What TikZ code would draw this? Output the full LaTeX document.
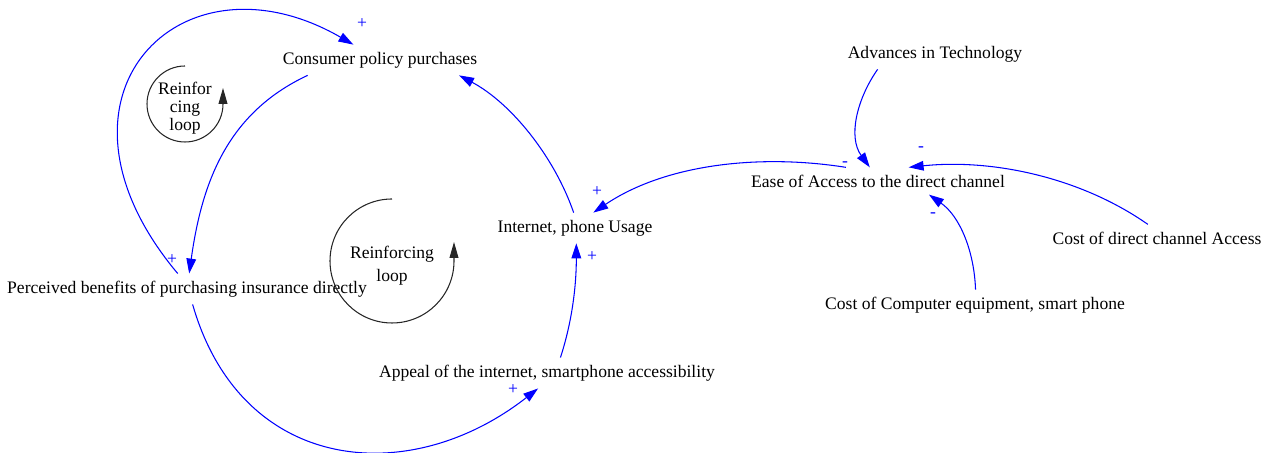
\documentclass[tikz,border=0pt]{standalone}
\usepackage{fontspec}
\setmainfont{Liberation Serif}
\usetikzlibrary{arrows.meta}

\tikzset{
  var/.style={inner sep=4pt, font=\fontsize{10}{12}\selectfont},
  link/.style={blue, line width=0.6pt, -{Triangle[length=8.5pt,width=5.5pt]}},
  pol/.style={blue, inner sep=0pt, font=\fontsize{10}{12}\selectfont},
  loopline/.style={black!85, line width=0.6pt, -{Triangle[length=9pt,width=5pt]}},
  looptext/.style={align=center, inner sep=0pt}
}

\begin{document}
\begin{tikzpicture}[x=0.2mm, y=0.2mm]
  \useasboundingbox (0,0) rectangle (1279,453);

  % variables
  \node[var] (cpp) at (380,393) {Consumer policy purchases};
  \node[var] (pb) at (187,164) {Perceived benefits of purchasing insurance directly};
  \node[var] (ipu) at (575,225) {Internet, phone Usage};
  \node[var] (app) at (547,80) {Appeal of the internet, smartphone accessibility};
  \node[var] (adv) at (935,399) {Advances in Technology};
  \node[var] (ease) at (878,272) {Ease of Access to the direct channel};
  \node[var] (cdca) at (1157,215) {Cost of direct channel Access};
  \node[var] (cce) at (975,148) {Cost of Computer equipment, smart phone};

  % loop markers
  \node[looptext, font=\fontsize{10}{10.2}\selectfont] (sl) at (185,345) {Reinfor\\cing\\loop};
  \draw[loopline] (sl.center) ++(0,42) arc[start angle=90, end angle=360, radius=38] -- ++(0,16);
  \node[looptext, font=\fontsize{10}{13}\selectfont] (bl) at (392,187) {Reinforcing\\loop};
  \draw[loopline] (bl.center) ++(0,67) arc[start angle=90, end angle=360, radius=62] -- ++(0,19);

  % links
  \draw[link] (pb.121) .. controls +(130:230) and +(150:200) .. (cpp.150);
  \draw[link] (cpp.192) .. controls +(205:90) and +(82:90) .. (pb.82);
  \draw[link] (pb.-70) .. controls +(-74:175) and +(218:165) .. (app.240);
  \draw[link] (app.49) .. controls +(72:40) and +(270:40) .. (ipu.-85);
  \draw[link] (ipu.95) .. controls +(109:59) and +(-28:59) .. (cpp.-11);
  \draw[link] (ease.157) .. controls +(171:87) and +(34:87) .. (ipu.40);
  \draw[link] (adv.195) .. controls +(235:37) and +(126:37) .. (ease.121);
  \draw[link] (cdca.124) .. controls +(145:83) and +(6:83) .. (ease.24);
  \draw[link] (cce.88) .. controls +(92:38) and +(-35:38) .. (ease.-15);

  % polarities
  \node[pol] (s1) at (362,429) {+};
  \node[pol] (s2) at (172,193) {+};
  \node[pol] (s3) at (513,63) {+};
  \node[pol] (s4) at (592,196) {+};
  \node[pol] (s5) at (597,261) {+};
  \node[pol] (s6) at (845,289) {-};
  \node[pol] (s7) at (921,304) {-};
  \node[pol] (s8) at (933,238) {-};
\end{tikzpicture}
\end{document}
